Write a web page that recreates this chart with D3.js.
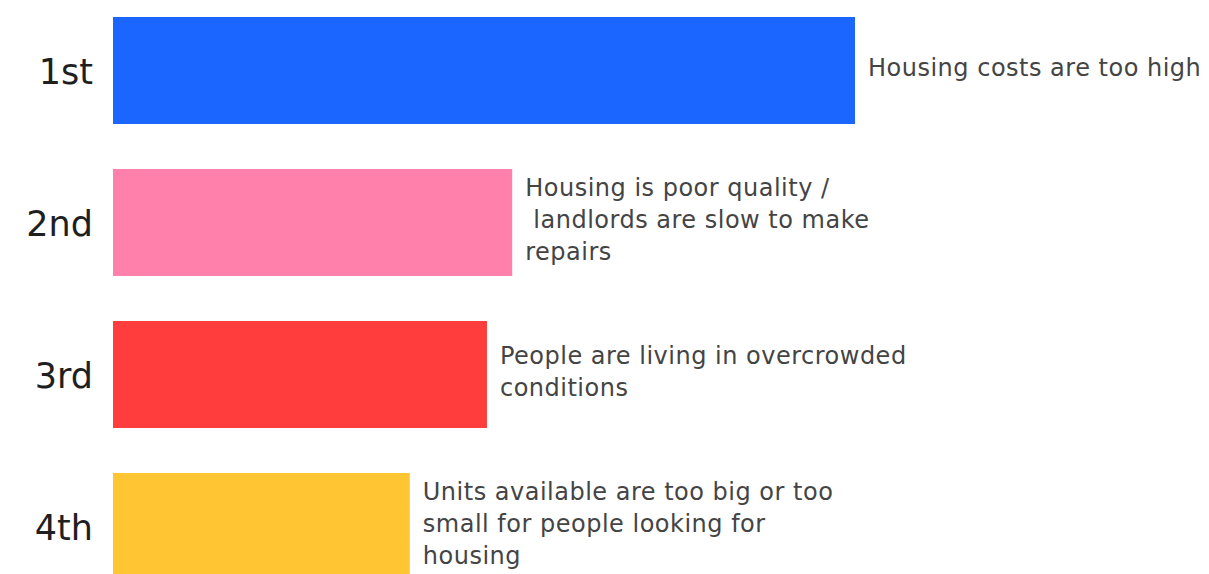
<!DOCTYPE html>
<html>
<head>
<meta charset="utf-8">
<script src="https://cdn.jsdelivr.net/npm/d3@7"></script>
<style>
  body { margin: 0; background: #fff; }
  svg { display: block; }
</style>
</head>
<body>
<script>
// chart data
var ranks = ["1st", "2nd", "3rd", "4th"];
var values = [100, 53.8, 50.4, 40.0];
var reasons = [
    ["Housing costs are too high"],
    ["Housing is poor quality /", " landlords are slow to make", "repairs"],
    ["People are living in overcrowded", "conditions"],
    ["Units available are too big or too", "small for people looking for", "housing"]
];
var colors = ["#1a66ff", "#ff80aa", "#ff3d3d", "#ffc533"];

var width = 1209,
    height = 574;

var svg = d3.select("body")
    .append("svg")
    .attr("width", width)
    .attr("height", height);

var x = d3.scaleLinear()
    .domain([0, 100])
    .range([113, 855]);

var y = d3.scaleBand()
    .domain(ranks)
    .range([17, 580])
    .paddingInner(0.296)
    .paddingOuter(0);

var rows = svg.selectAll(".row")
    .data(ranks)
    .enter()
    .append("g")
    .attr("class", "row");

rows.append("rect")
    .attr("x", x(0))
    .attr("y", function(d){ return y(d); })
    .attr("width", function(d, i){ return x(values[i]) - x(0); })
    .attr("height", y.bandwidth())
    .attr("fill", function(d, i){ return colors[i]; });

//rank labels on the left
rows.append("text")
    .attr("x", 93)
    .attr("y", function(d){ return y(d) + y.bandwidth() / 2 + 1; })
    .attr("dy", "0.35em")
    .attr("text-anchor", "end")
    .style("font-family", "'DejaVu Sans', sans-serif")
    .style("font-size", "35px")
    .style("fill", "#1f1f1f")
    .text(function(d){ return d; });

//reason text next to each bar
var lineH = 32;
rows.append("text")
    .attr("x", function(d, i){ return x(values[i]) + 13; })
    .attr("y", function(d, i){
        var mid = y(d) + y.bandwidth() / 2 - 3;
        return mid - (reasons[i].length - 1) * lineH / 2;
    })
    .style("font-family", "'DejaVu Sans', sans-serif")
    .style("font-size", "24px")
    .style("letter-spacing", "0.5px")
    .style("fill", "#444")
    .style("white-space", "pre")
    .selectAll("tspan")
    .data(function(d, i){ return reasons[i]; })
    .enter()
    .append("tspan")
    .attr("x", function(){ return this.parentNode.getAttribute("x"); })
    .attr("dy", function(d, j){ return j === 0 ? "0.35em" : lineH; })
    .text(function(d){ return d; });
</script>
</body>
</html>
